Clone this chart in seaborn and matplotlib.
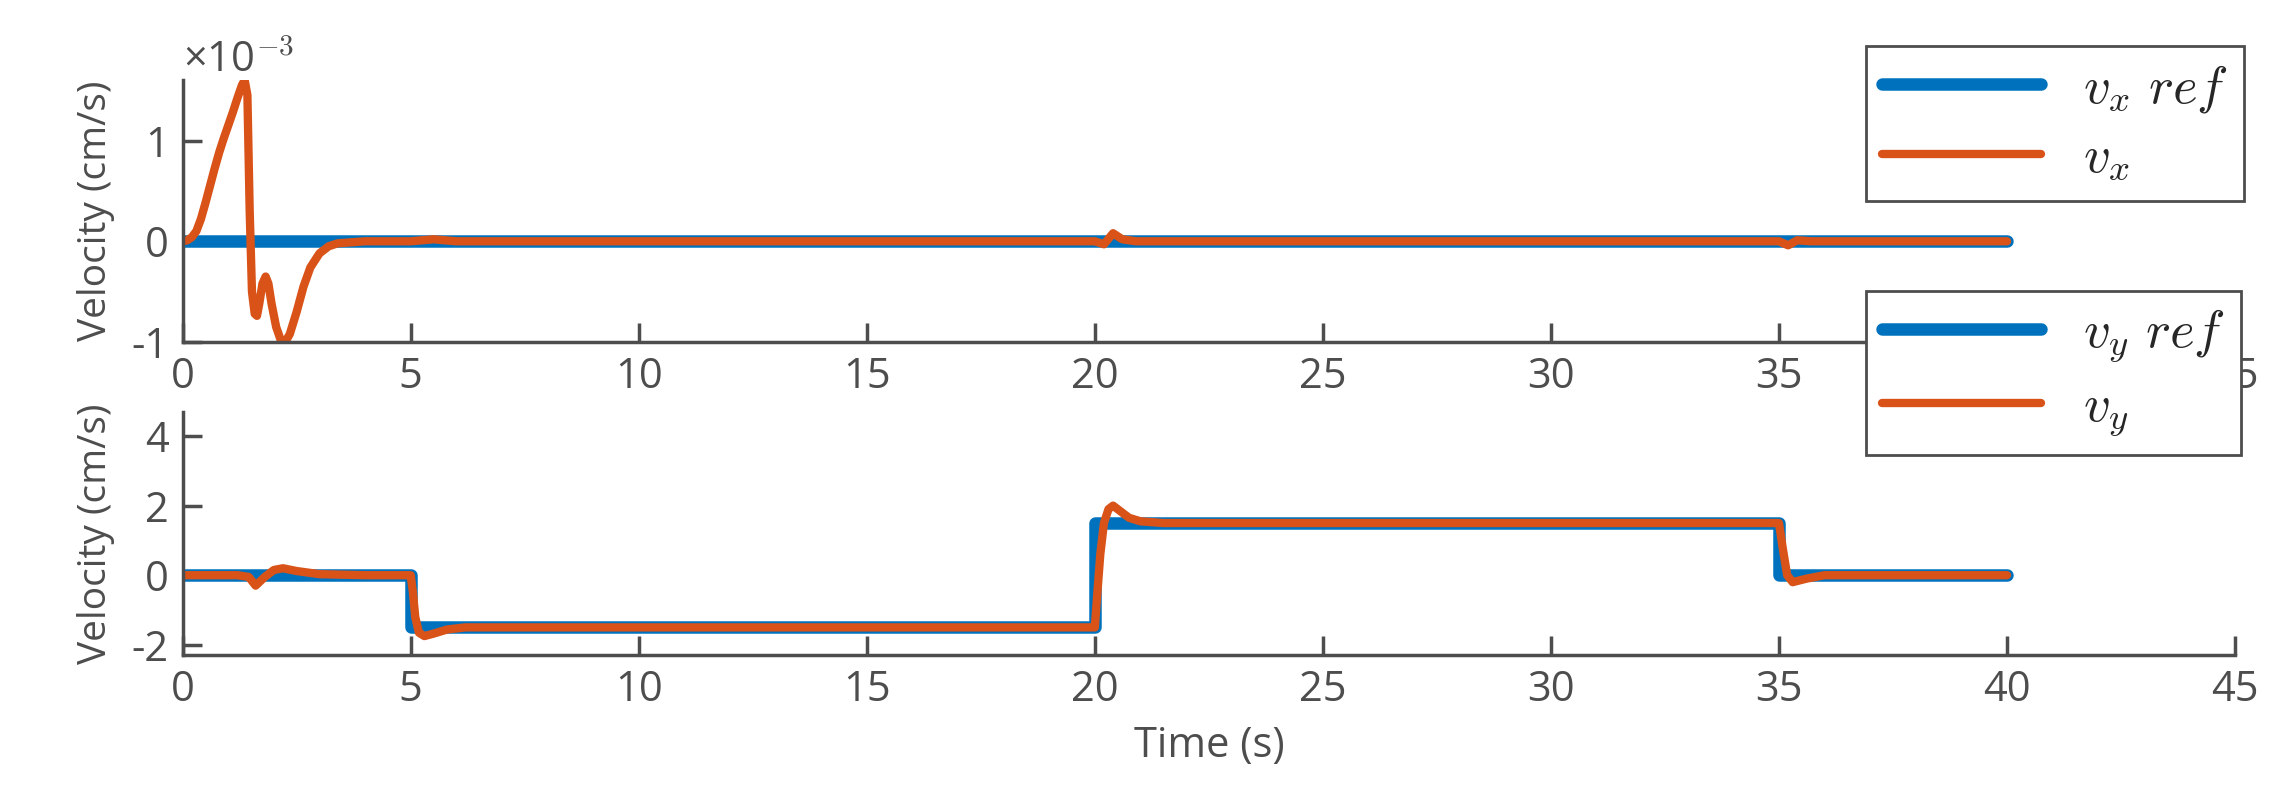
import numpy as np
import pandas as pd
import matplotlib
matplotlib.use("Agg")
import matplotlib.pyplot as plt
import seaborn as sns

sns.set_style("ticks")
plt.rcParams['font.family'] = ['Open Sans', 'DejaVu Sans']
plt.rcParams['mathtext.fontset'] = 'cm'

BLUE = "#0072BD"
ORANGE = "#D95319"
GREY = "#4D4D4D"

# reference signals (step profiles)
ref_t = [0, 5, 5, 20, 20, 35, 35, 40]
vx_ref = [0, 0, 0, 0, 0, 0, 0, 0]
vy_ref = [0, 0, -1.5, -1.5, 1.5, 1.5, 0, 0]

vx_t = [0, 0.1, 0.2, 0.3, 0.4, 0.5, 0.6, 0.7, 0.8, 0.9, 1.0, 1.1, 1.2, 1.3,
        1.36, 1.42, 1.47, 1.52, 1.58, 1.63, 1.68, 1.75, 1.82, 1.88, 1.95, 2.05,
        2.15, 2.25, 2.35, 2.5, 2.65, 2.8, 3.0, 3.2, 3.4, 3.7, 4.0, 5.0, 5.5,
        6.0, 10, 20.0, 20.2, 20.4, 20.6, 20.9, 25, 35.0, 35.2, 35.4, 35.7, 40]
vx = [0, 0.01, 0.04, 0.1, 0.22, 0.38, 0.55, 0.72, 0.88, 1.02, 1.15, 1.28,
      1.42, 1.55, 1.6, 1.45, 0.3, -0.5, -0.72, -0.74, -0.62, -0.42, -0.35,
      -0.42, -0.62, -0.85, -0.98, -1.0, -0.92, -0.7, -0.45, -0.26, -0.12,
      -0.05, -0.02, -0.01, 0, 0, 0.02, 0, 0, 0, -0.03, 0.08, 0.02, 0, 0, 0,
      -0.04, 0.01, 0, 0]

# measured vy (cm/s)
vy_t = [0, 1.2, 1.45, 1.6, 1.8, 2.0, 2.2, 2.5, 3.0, 4.0, 5.0, 5.05, 5.1,
        5.18, 5.3, 5.5, 5.8, 6.2, 7, 15, 20.0, 20.05, 20.12, 20.2, 20.3, 20.4,
        20.55, 20.75, 21.0, 21.5, 25, 35.0, 35.08, 35.18, 35.3, 35.6, 36.0,
        37, 40]
vy = [0, 0, -0.05, -0.3, -0.05, 0.15, 0.2, 0.12, 0.03, 0, 0, -0.5, -1.2,
      -1.65, -1.75, -1.68, -1.56, -1.5, -1.5, -1.5, -1.5, -0.6, 0.6, 1.5, 1.9,
      2.0, 1.85, 1.65, 1.55, 1.5, 1.5, 1.5, 0.8, 0.0, -0.2, -0.1, 0, 0, 0]

fig = plt.figure(figsize=(22.83, 8.01), dpi=100)
ax1 = fig.add_axes([0.080, 0.573, 0.899, 0.327])
ax2 = fig.add_axes([0.080, 0.182, 0.899, 0.304])

sns.lineplot(x=ref_t, y=vx_ref, ax=ax1, color=BLUE, lw=9, label=r'$v_x\ ref$',
             estimator=None, sort=False)
sns.lineplot(x=vx_t, y=vx, ax=ax1, color=ORANGE, lw=6, label=r'$v_x$',
             estimator=None, sort=False)
sns.lineplot(x=ref_t, y=vy_ref, ax=ax2, color=BLUE, lw=9, label=r'$v_y\ ref$',
             estimator=None, sort=False)
sns.lineplot(x=vy_t, y=vy, ax=ax2, color=ORANGE, lw=6, label=r'$v_y$',
             estimator=None, sort=False)

ax1.set_ylim(-1, 1.6)
ax1.set_yticks([-1, 0, 1])
ax2.set_ylim(-2.3, 4.7)
ax2.set_yticks([-2, 0, 2, 4])
for ax in (ax1, ax2):
    ax.set_xlim(0, 45)
    ax.set_xticks(range(0, 46, 5))
    ax.set_ylabel("Velocity (cm/s)", fontsize=28, color=GREY, labelpad=12)
    ax.tick_params(labelsize=30, colors=GREY, width=2.5, length=14,
                   direction='in', pad=10)
    sns.despine(ax=ax)
    for s in ('left', 'bottom'):
        ax.spines[s].set_color(GREY)
        ax.spines[s].set_linewidth(2.5)
ax1.yaxis.set_major_formatter(matplotlib.ticker.FuncFormatter(
    lambda v, p: f"{v:g}".replace("\u2212", "-")))
ax2.yaxis.set_major_formatter(matplotlib.ticker.FuncFormatter(
    lambda v, p: f"{v:g}".replace("\u2212", "-")))
ax1.text(0.0, 1.03, "\u00d710$^{-3}$", transform=ax1.transAxes, fontsize=30,
         color=GREY)
ax2.set_xlabel("Time (s)", fontsize=30, color=GREY, labelpad=10)

for ax, box in ((ax1, (0.806, 0.975)), (ax2, (0.806, 0.67))):
    ax.get_legend().remove()
    h, l = ax.get_legend_handles_labels()
    leg = fig.legend(h, l, loc='upper left', bbox_to_anchor=box,
                     fontsize=38, handlelength=3.0, frameon=True, fancybox=False,
                     edgecolor=GREY, borderpad=0.3, labelspacing=0.3,
                     framealpha=1)
    leg.get_frame().set_linewidth(2)

fig.savefig("out.png", dpi=100, facecolor='white')
